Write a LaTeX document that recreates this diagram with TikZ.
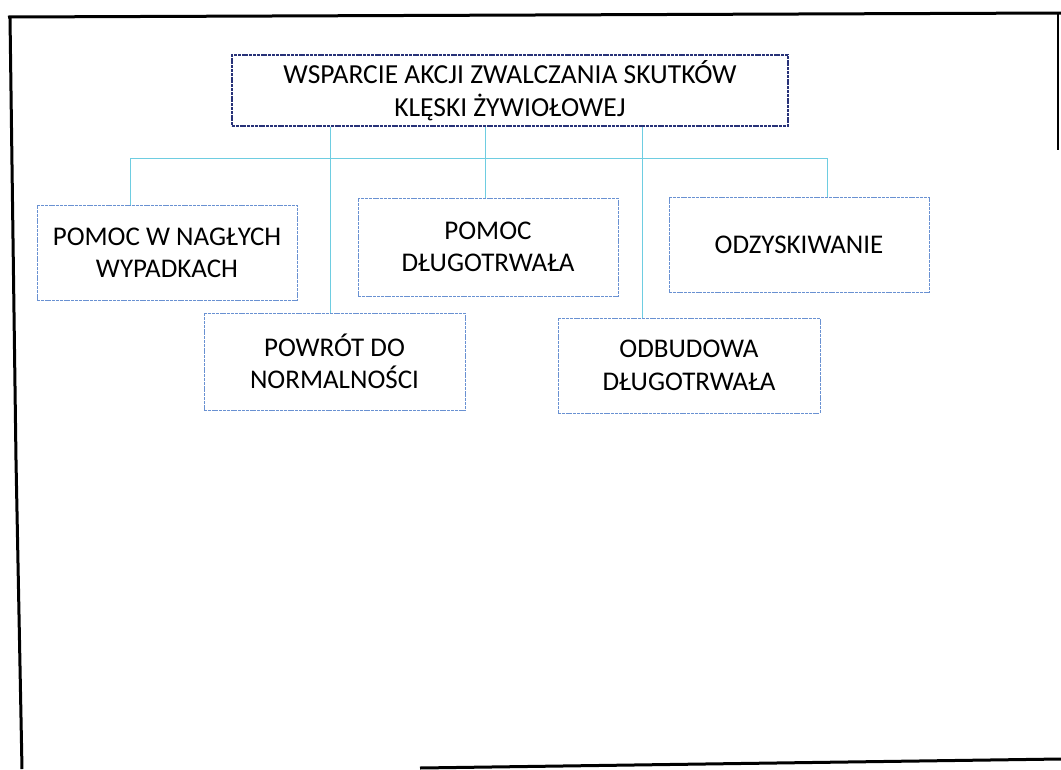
\documentclass[tikz,border=0pt]{standalone}
\usepackage{fontspec}
\setmainfont{Carlito}
\usepackage{xcolor}
\usepackage{tikz}
\usetikzlibrary{calc, positioning}
\definecolor{boxcolor}{RGB}{105,145,210}
\definecolor{topcolor}{RGB}{40,50,120}
\definecolor{linkcolor}{RGB}{110,205,225}

\begin{document}
\begin{tikzpicture}[x=1pt, y=-1pt]
	\tikzstyle{taskbox}=[draw=boxcolor, dash pattern=on 3pt off 0.8pt, line width=0.9pt, minimum width=260pt, minimum height=95pt, inner sep=0pt, align=center, font=\fontsize{27}{32.5}\selectfont]
	\tikzstyle{headbox}=[taskbox, draw=topcolor, line width=1.3pt, minimum width=556pt, minimum height=71pt, font=\fontsize{27.5}{33.5}\selectfont]
	\tikzstyle{link}=[draw=linkcolor, line width=1pt]
	\useasboundingbox (0,0) rectangle (1061,769);

	% frame of the scanned slide
	\draw[line width=3pt] (8,17) -- (1061,13);
	\draw[line width=3pt] (10,17) -- (16,460) -- (22,769);
	\draw[line width=2pt] (1058,13) -- (1058,150);
	\draw[line width=3pt] (420,768) -- (1061,759);

	\node (top) at (510,90.5) [headbox]{WSPARCIE AKCJI ZWALCZANIA SKUTKÓW\\KLĘSKI ŻYWIOŁOWEJ};
	\node (b1) at (167,253) [taskbox]{POMOC W NAGŁYCH\\WYPADKACH};
	\node (b2) at (488,247) [taskbox, minimum height=98pt]{POMOC\\DŁUGOTRWAŁA};
	\node (b3) at (799,244.5) [taskbox]{ODZYSKIWANIE};
	\node (b4) at (334.5,361.5) [taskbox, minimum width=261pt, minimum height=97pt]{POWRÓT DO\\NORMALNOŚCI};
	\node (b5) at (689,365.5) [taskbox, minimum width=262pt]{ODBUDOWA\\DŁUGOTRWAŁA};

	\coordinate (l1) at (130,158);
	\coordinate (l3) at (827,158);
	\coordinate (c4) at (330,158);
	\coordinate (c2) at (485,158);
	\coordinate (c5) at (642,158);

	\draw[link] (l1) -- (l3);
	\draw[link] (l1) -- (l1 |- b1.north);
	\draw[link] (l3) -- (l3 |- b3.north);
	\draw[link] (c4 |- top.south) -- (c4 |- b4.north);
	\draw[link] (c2 |- top.south) -- (c2 |- b2.north);
	\draw[link] (c5 |- top.south) -- (c5 |- b5.north);
\end{tikzpicture}
\end{document}
